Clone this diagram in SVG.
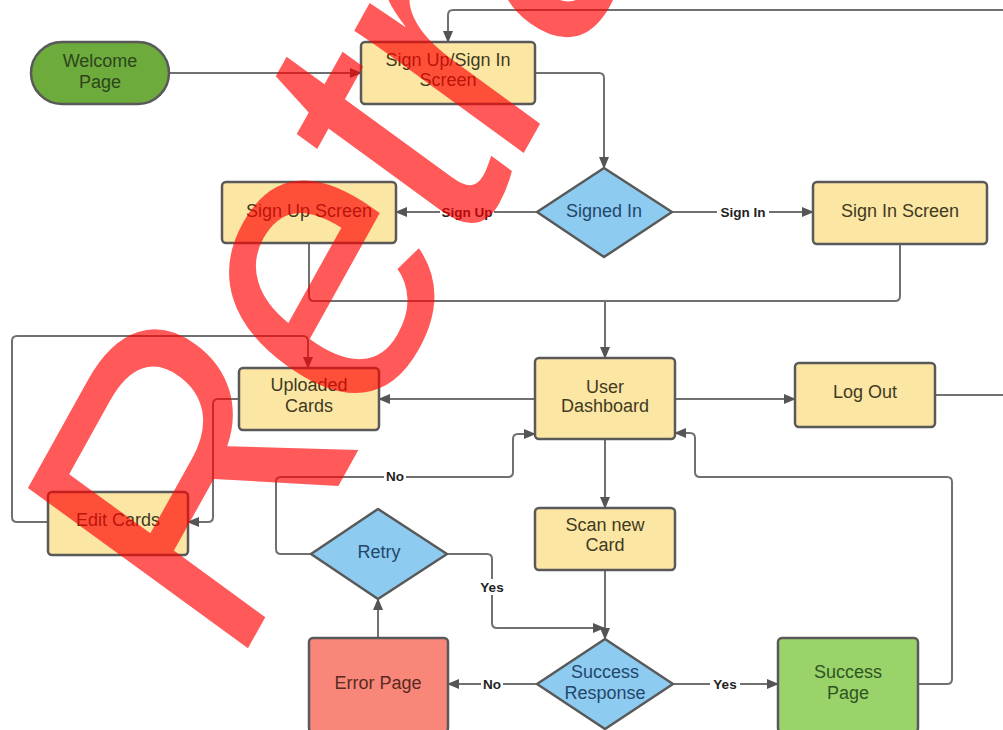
<svg xmlns="http://www.w3.org/2000/svg" width="1003" height="730" viewBox="0 0 1003 730">
<defs>
<marker id="arr" markerUnits="userSpaceOnUse" markerWidth="12" markerHeight="10" refX="11" refY="5" orient="auto">
<path d="M0,0 L12,5 L0,10 z" fill="#555"/>
</marker>
<style>
.n{stroke:#595959;stroke-width:2.5}
.y{fill:#fce6a4}
.d{fill:#8ecbf0}
.t{font-family:"Liberation Sans",Arial,sans-serif;font-size:18px;text-anchor:middle;dominant-baseline:central;fill:#403a22}
.td{fill:#23476b}
.c{fill:none;stroke:#707070;stroke-width:2}
.a{marker-end:url(#arr)}
.l{font-family:"Liberation Sans",Arial,sans-serif;font-size:13.5px;font-weight:bold;text-anchor:middle;dominant-baseline:central;fill:#222}
.lb{fill:#fff}
</style>
</defs>
<rect width="1003" height="730" fill="#fff"/>
<g id="connectors">
<path class="c a" d="M169,73 H361"/>
<path class="c a" d="M1003,10 H453 Q448,10 448,15 V42"/>
<path class="c a" d="M535,73 H599 Q604,73 604,78 V168"/>
<path class="c a" d="M537,212 H396"/>
<path class="c a" d="M672,212 H813"/>
<path class="c" d="M309,243 V296 Q309,301 314,301 H895 Q900,301 900,296 V244"/>
<path class="c a" d="M605,301 V358"/>
<path class="c a" d="M535,399 H379"/>
<path class="c a" d="M675,399 H795"/>
<path class="c" d="M935,395 H1003"/>
<path class="c a" d="M605,439 V508"/>
<path class="c a" d="M605,570 V639"/>
<path class="c a" d="M537,684 H448"/>
<path class="c a" d="M673,684 H778"/>
<path class="c a" d="M918,684 H947 Q952,684 952,679 V482 Q952,477 947,477 H700 Q695,477 695,472 V438 Q695,433 690,433 H675"/>
<path class="c a" d="M378,638 V599"/>
<path class="c a" d="M311,554 H281 Q276,554 276,549 V482 Q276,477 281,477 H508 Q513,477 513,472 V439 Q513,434 518,434 H535"/>
<path class="c a" d="M447,554 H487 Q492,554 492,559 V623 Q492,628 497,628 H604"/>
<path class="c a" d="M239,399 H218 Q213,399 213,404 V517 Q213,522 208,522 H188"/>
<path class="c a" d="M48,522 H17 Q12,522 12,517 V341 Q12,336 17,336 H303 Q308,336 308,341 V368"/>
<rect class="lb" x="440" y="204" width="54" height="16"/>
<text class="l" x="467" y="212">Sign Up</text>
<rect class="lb" x="717" y="204" width="52" height="16"/>
<text class="l" x="743" y="212">Sign In</text>
<rect class="lb" x="384" y="469" width="22" height="16"/>
<text class="l" x="395" y="476">No</text>
<rect class="lb" x="477" y="579" width="30" height="16"/>
<text class="l" x="492" y="587">Yes</text>
<rect class="lb" x="481" y="676" width="22" height="16"/>
<text class="l" x="492" y="684">No</text>
<rect class="lb" x="710" y="676" width="30" height="16"/>
<text class="l" x="725" y="684">Yes</text>
</g>
<g id="welcome">
<rect class="n" x="31" y="42" width="138" height="62" rx="31" fill="#6cab3c" stroke="#4a5540"/>
<text class="t" x="100" y="61" style="fill:#2e451c">Welcome</text>
<text class="t" x="100" y="82" style="fill:#2e451c">Page</text>
</g>
<g id="signupsignin">
<rect class="n y" x="361" y="42" width="174" height="62" rx="4"/>
<text class="t" x="448" y="60">Sign Up/Sign In</text>
<text class="t" x="448" y="80">Screen</text>
</g>
<g id="signedin">
<polygon class="n d" points="604,168 672,212 604,257 537,212" stroke-linejoin="round"/>
<text class="t td" x="604" y="211">Signed In</text>
</g>
<g id="signupscreen">
<rect class="n y" x="222" y="182" width="174" height="61" rx="4"/>
<text class="t" x="309" y="211">Sign Up Screen</text>
</g>
<g id="signinscreen">
<rect class="n y" x="813" y="182" width="174" height="62" rx="4"/>
<text class="t" x="900" y="211">Sign In Screen</text>
</g>
<g id="dashboard">
<rect class="n y" x="535" y="358" width="140" height="81" rx="4"/>
<text class="t" x="605" y="387">User</text>
<text class="t" x="605" y="406">Dashboard</text>
</g>
<g id="logout">
<rect class="n y" x="795" y="363" width="140" height="64" rx="4"/>
<text class="t" x="865" y="392">Log Out</text>
</g>
<g id="uploaded">
<rect class="n y" x="239" y="368" width="140" height="62" rx="4"/>
<text class="t" x="309" y="385">Uploaded</text>
<text class="t" x="309" y="406">Cards</text>
</g>
<g id="editcards">
<rect class="n y" x="48" y="492" width="140" height="63" rx="4"/>
<text class="t" x="118" y="520">Edit Cards</text>
</g>
<g id="retry">
<polygon class="n d" points="378,509 447,554 378,599 311,554" stroke-linejoin="round"/>
<text class="t td" x="379" y="552">Retry</text>
</g>
<g id="scan">
<rect class="n y" x="535" y="508" width="140" height="62" rx="4"/>
<text class="t" x="605" y="525">Scan new</text>
<text class="t" x="605" y="545">Card</text>
</g>
<g id="errorpage">
<rect class="n" x="309" y="638" width="139" height="94" rx="4" fill="#f8877a"/>
<text class="t" x="378" y="683" style="fill:#5a2a22">Error Page</text>
</g>
<g id="successresponse">
<polygon class="n d" points="605,639 673,684 605,729 537,684" stroke-linejoin="round"/>
<text class="t td" x="605" y="672">Success</text>
<text class="t td" x="605" y="693">Response</text>
</g>
<g id="successpage">
<rect class="n" x="778" y="638" width="140" height="94" rx="4" fill="#9bd36b"/>
<text class="t" x="848" y="672" style="fill:#2e5520">Success</text>
<text class="t" x="848" y="693" style="fill:#2e5520">Page</text>
</g>
<text transform="matrix(1.859 -3.339 3.198 2.332 232.7 675.7)" x="0" y="0" letter-spacing="-2" font-family="Liberation Sans, Arial, sans-serif" font-size="100" fill="#ff0000" fill-opacity="0.65">Retracted</text>
</svg>
